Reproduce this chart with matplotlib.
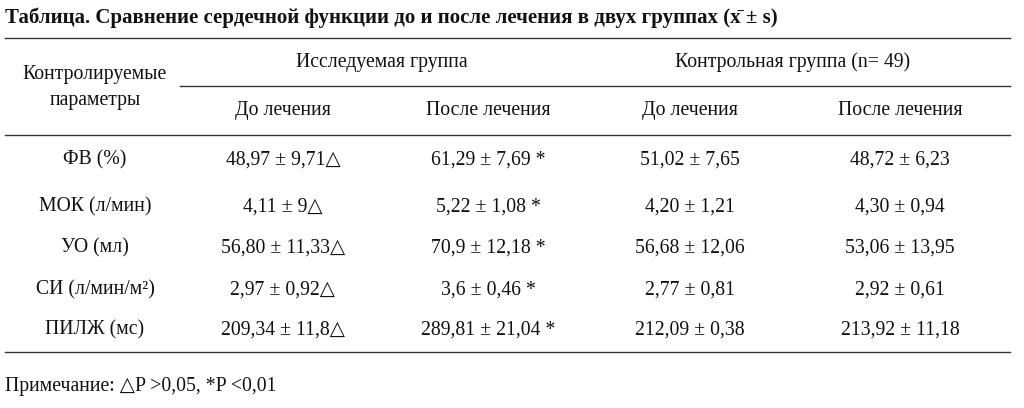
import matplotlib
matplotlib.use("Agg")
import matplotlib.pyplot as plt
from matplotlib.lines import Line2D

title = "Таблица. Сравнение сердечной функции до и после лечения в двух группах (x\u0304 ± s)"
groups = ["Исследуемая группа", "Контрольная группа (n= 49)"]
subheads = ["До лечения", "После лечения", "До лечения", "После лечения"]
params = ["ФВ (%)", "МОК (л/мин)", "УО (мл)", "СИ (л/мин/м²)", "ПИЛЖ (мс)"]
col1 = ["48,97 ± 9,71△", "4,11 ± 9△", "56,80 ± 11,33△", "2,97 ± 0,92△", "209,34 ± 11,8△"]
col2 = ["61,29 ± 7,69 *", "5,22 ± 1,08 *", "70,9 ± 12,18 *", "3,6 ± 0,46 *", "289,81 ± 21,04 *"]
col3 = ["51,02 ± 7,65", "4,20 ± 1,21", "56,68 ± 12,06", "2,77 ± 0,81", "212,09 ± 0,38"]
col4 = ["48,72 ± 6,23", "4,30 ± 0,94", "53,06 ± 13,95", "2,92 ± 0,61", "213,92 ± 11,18"]
note = "Примечание: △P >0,05, *P <0,01"

W, H = 1024, 408
fig = plt.figure(figsize=(W/100, H/100), dpi=100)
fam = ["Liberation Serif", "DejaVu Sans"]

def T(x, y, s, ha="center", size=14.2, weight="normal"):
    fig.text(x/W, 1-y/H, s, ha=ha, va="center", fontsize=size, family=fam, weight=weight, color="#111")

def L(x0, x1, y, lw=1.0):
    fig.add_artist(Line2D([x0/W, x1/W], [1-y/H, 1-y/H], color="#333", lw=lw))

T(5, 18, title, ha="left", size=15, weight="bold")
L(5, 1010, 38)
L(180, 1010, 86)
L(5, 1010, 135)
L(5, 1010, 352)

T(95, 75, "Контролируемые")
T(95, 100, "параметры")
for cx, g in zip([382, 793], groups):
    T(cx, 62, g)
centers = [283, 488, 690, 900]
for cx, s in zip(centers, subheads):
    T(cx, 111, s)
rows_y = [160, 207, 248, 290, 330]
for i, y in enumerate(rows_y):
    T(95, y, params[i])
    for cx, col in zip(centers, [col1, col2, col3, col4]):
        T(cx, y, col[i])
T(5, 386, note, ha="left")

fig.savefig("out.png", dpi=100, facecolor="white")
